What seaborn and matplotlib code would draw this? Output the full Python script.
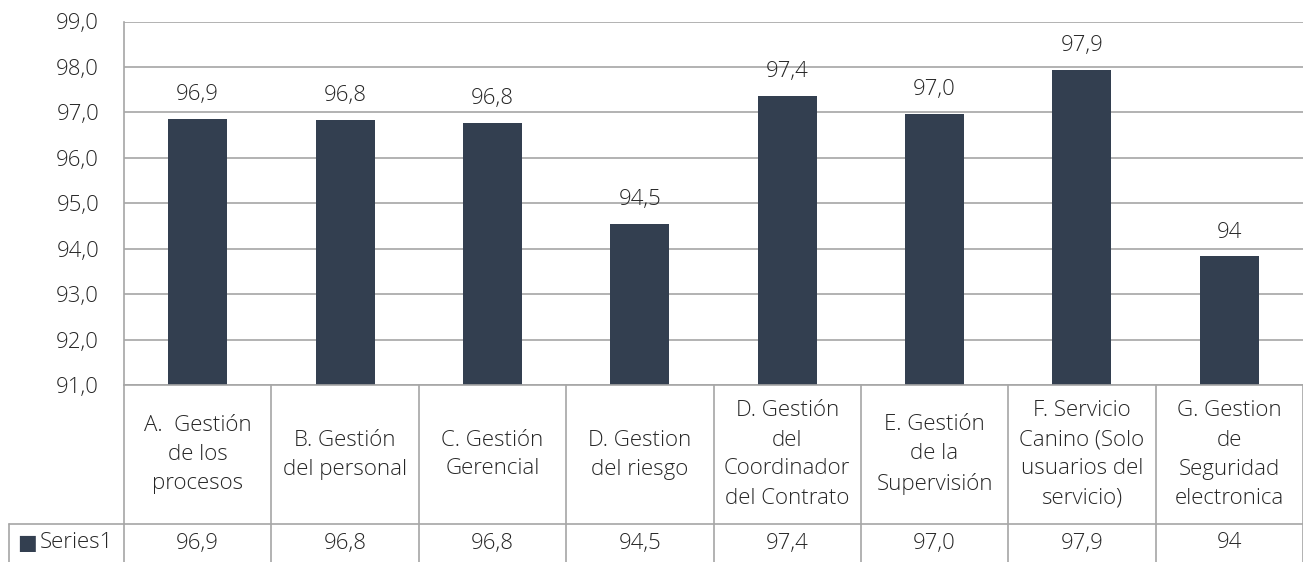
import matplotlib
matplotlib.use("Agg")
import matplotlib.pyplot as plt
import matplotlib.transforms as mtransforms
from matplotlib.ticker import FuncFormatter
import seaborn as sns
import pandas as pd

# datos
categorias = [
    "A.  Gestión\nde los\nprocesos",
    "B. Gestión\ndel personal",
    "C. Gestión\nGerencial",
    "D. Gestion\ndel riesgo",
    "D. Gestión\ndel\nCoordinador\ndel Contrato",
    "E. Gestión\nde la\nSupervisión",
    "F. Servicio\nCanino (Solo\nusuarios del\nservicio)",
    "G. Gestion\nde\nSeguridad\nelectronica",
]
valores = [96.86, 96.84, 96.76, 94.54, 97.37, 96.97, 97.94, 93.83]
etiquetas = ["96,9", "96,8", "96,8", "94,5", "97,4", "97,0", "97,9", "94"]
serie = "Series1"

color_barra = "#333F50"
color_linea = "#A6A6A6"
color_texto = "#262626"
fs = 16

sns.set_theme(style="white")
plt.rcParams["font.family"] = ["Open Sans", "DejaVu Sans"]
plt.rcParams["font.weight"] = "light"

W, H = 1303, 562
fig = plt.figure(figsize=(W / 100, H / 100), dpi=100)
ax_left, ax_top, ax_bottom = 124, 21.5, 385
ax = fig.add_axes([ax_left / W, 1 - ax_bottom / H, (W - ax_left) / W, (ax_bottom - ax_top) / H])

df = pd.DataFrame({"cat": range(len(valores)), "val": valores})
sns.barplot(data=df, x="cat", y="val", color=color_barra, width=0.4, ax=ax,
            saturation=1, edgecolor="none")

ax.set_ylim(91, 99)
ax.set_xlim(-0.5, len(valores) - 0.5)
ax.set_yticks(range(91, 100))
ax.yaxis.set_major_formatter(FuncFormatter(lambda v, p: f"{v:.1f}".replace(".", ",")))
ax.tick_params(axis="y", labelsize=fs, colors=color_texto, length=0, pad=18)
ax.set_xticks([])
ax.set_xlabel("")
ax.set_ylabel("")
ax.grid(axis="y", color=color_linea, linewidth=1.2)
ax.set_axisbelow(True)
for s in ["top", "right", "bottom"]:
    ax.spines[s].set_visible(False)
ax.spines["left"].set_color(color_linea)
ax.spines["left"].set_linewidth(1.2)

# etiquetas de datos
for i, (v, t) in enumerate(zip(valores, etiquetas)):
    ax.annotate(t, (i, v), xytext=(0, 10), textcoords="offset points",
                ha="center", va="bottom", fontsize=fs, color=color_texto)

# tabla de datos bajo el grafico
alto_ax = ax_bottom - ax_top
y_cab = -(524 - ax_bottom) / alto_ax
y_fin = -(H - ax_bottom) / alto_ax
trans = mtransforms.blended_transform_factory(ax.transData, ax.transAxes)
lk = dict(color=color_linea, linewidth=1.2, clip_on=False)

ax.plot([-0.5, len(valores) - 0.5], [0, 0], transform=trans, **lk)
ax.plot([-0.5, len(valores) - 0.5], [y_cab, y_cab], transform=trans, **lk)
for i in range(len(valores) + 1):
    ax.plot([i - 0.5, i - 0.5], [0, y_fin], transform=trans, **lk)

x_izq = -(ax_left - 9) / (W - ax_left)
ax.plot([x_izq, 0], [y_cab, y_cab], transform=ax.transAxes, **lk)
ax.plot([x_izq, x_izq], [y_cab, y_fin], transform=ax.transAxes, **lk)

for i, (c, t) in enumerate(zip(categorias, etiquetas)):
    ax.text(i, y_cab / 2, c, transform=trans, ha="center", va="center",
            fontsize=fs, color=color_texto, linespacing=1.5)
    ax.text(i, (y_cab + y_fin) / 2, t, transform=trans, ha="center", va="center",
            fontsize=fs, color=color_texto)

# leyenda de la serie
ax.text(x_izq + 0.007, (y_cab + y_fin) / 2, "\u25A0", transform=ax.transAxes,
        ha="left", va="center", fontsize=15, color=color_barra,
        family=["DejaVu Sans"], fontweight="normal")
ax.text(x_izq + 0.026, (y_cab + y_fin) / 2, serie, transform=ax.transAxes,
        ha="left", va="center", fontsize=fs, color=color_texto)

fig.savefig("out.png", dpi=100)
